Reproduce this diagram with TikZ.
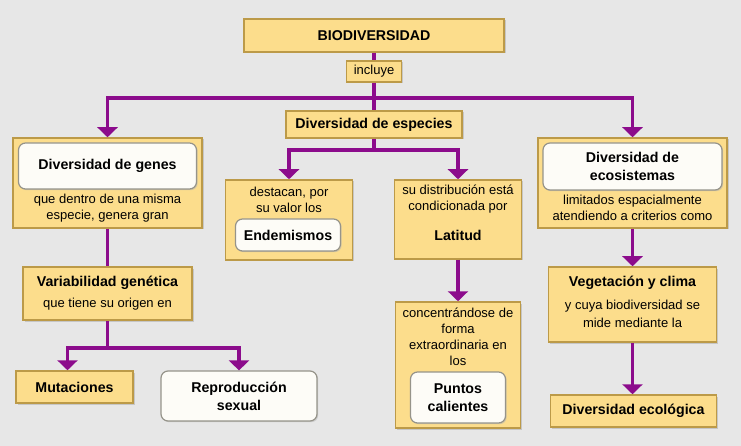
\documentclass[tikz,border=0pt]{standalone}
\usepackage{fontspec}
\setmainfont{Liberation Sans}
\usetikzlibrary{arrows.meta,shadows}

\definecolor{bggray}{RGB}{231,231,231}
\definecolor{boxfill}{RGB}{252,221,140}
\definecolor{boxline}{RGB}{188,154,72}
\definecolor{wfill}{RGB}{253,252,247}
\definecolor{wline}{RGB}{150,148,138}
\definecolor{linkc}{RGB}{140,12,140}

\tikzset{
  ybox/.style={draw=boxline, line width=1.5pt, fill=boxfill, inner sep=0pt,
    drop shadow={shadow xshift=1.5pt, shadow yshift=-1.5pt, fill=black!35}},
  wbox/.style={draw=wline, line width=1.2pt, fill=wfill, rounded corners=7pt,
    inner sep=0pt, align=center, font=\bfseries\fontsize{14.2}{18}\selectfont,
    drop shadow={shadow xshift=1.2pt, shadow yshift=-1.2pt, fill=black!30}},
  txt/.style={inner sep=0pt, align=center, font=\fontsize{13}{16}\selectfont},
  btxt/.style={inner sep=0pt, align=center, font=\bfseries\fontsize{14.2}{18}\selectfont},
  link/.style={draw=linkc, line width=3.2pt},
  tip/.style={-{Triangle[width=20pt,length=10pt]}}
}

\begin{document}
\begin{tikzpicture}[x=1pt,y=-1pt]
\fill[bggray] (0,0) rectangle (741,446);
\useasboundingbox (0,0) rectangle (741,446);

% Top
\node[ybox, btxt, minimum width=260pt, minimum height=33pt] (bio) at (374,35.5) {BIODIVERSIDAD};
\node[ybox, txt, minimum width=55pt, minimum height=21pt] (incl) at (374,71.5) {incluye};
\node[ybox, btxt, minimum width=176pt, minimum height=27pt] (esp) at (374,124.5) {Diversidad de especies};

% Left column
\node[ybox, minimum width=189pt, minimum height=90pt] (gen) at (107.5,183) {};
\node[wbox, minimum width=178pt, minimum height=46pt] (genw) at (107.5,166) {Diversidad de genes};
\node[txt] (gent) at (107.5,208) {que dentro de una misma\\especie, genera gran};
\node[ybox, minimum width=169pt, minimum height=53pt] (var) at (107.5,293.5) {};
\node[btxt] (vart) at (107.5,283) {Variabilidad genética};
\node[txt] (vars) at (107.5,304) {que tiene su origen en};
\node[ybox, btxt, minimum width=117pt, minimum height=32pt] (mut) at (74.5,387) {Mutaciones};
\node[wbox, minimum width=156pt, minimum height=50pt] (rep) at (239,396) {Reproducción\\sexual};

% Middle
\node[ybox, minimum width=127pt, minimum height=80pt] (dest) at (289,220) {};
\node[txt] (destt) at (289,199.5) {destacan, por\\su valor los};
\node[wbox, minimum width=105pt, minimum height=32pt] (end) at (288,235) {Endemismos};
\node[ybox, minimum width=127pt, minimum height=79pt] (dis) at (458,219.5) {};
\node[txt] (dist) at (458,199.5) {su distribución está\\condicionada por};
\node[btxt] (lat) at (458,235) {Latitud};
\node[ybox, minimum width=125pt, minimum height=126pt] (con) at (458,365) {};
\node[txt] (cont) at (458,337) {concentrándose de\\forma\\extraordinaria en\\los};
\node[wbox, minimum width=95pt, minimum height=51pt] (pun) at (458,397.5) {Puntos\\calientes};

% Right column
\node[ybox, minimum width=189pt, minimum height=90pt] (eco) at (632.5,183) {};
\node[wbox, minimum width=179pt, minimum height=47pt] (ecow) at (632.5,166.5) {Diversidad de\\ecosistemas};
\node[txt] (ecot) at (632.5,208) {limitados espacialmente\\atendiendo a criterios como};
\node[ybox, minimum width=168pt, minimum height=75pt] (veg) at (632.5,304.5) {};
\node[btxt] (vegt) at (632.5,283) {Vegetación y clima};
\node[txt] (vegs) at (632.5,314) {y cuya biodiversidad se\\[2pt]mide mediante la};
\node[ybox, btxt, minimum width=166pt, minimum height=32pt] (ecol) at (633.5,411) {Diversidad ecológica};

% Connectors
\coordinate (j1) at (374,98);
\coordinate (j2) at (374,150);
\coordinate (j3) at (107.5,348);
\draw[link] (bio.south) -- (incl.north);
\draw[link] (incl.south) -- (esp.north);
\draw[link, tip] (j1) -| (gen.north);
\draw[link, tip] (j1) -| (eco.north);
\draw[link] (esp.south) -- (j2);
\draw[link, tip] (j2) -| (dest.north);
\draw[link, tip] (j2) -| (dis.north);
\draw[link] (gen.south) -- (var.north);
\draw[link] (var.south) -- (j3);
\draw[link, tip] (j3) -| ([xshift=-7pt]mut.north);
\draw[link, tip] (j3) -| (rep.north);
\draw[link, tip] (dis.south) -- (con.north);
\draw[link, tip] (eco.south) -- (veg.north);
\draw[link, tip] (veg.south) -- (veg.south |- ecol.north);
\end{tikzpicture}
\end{document}
